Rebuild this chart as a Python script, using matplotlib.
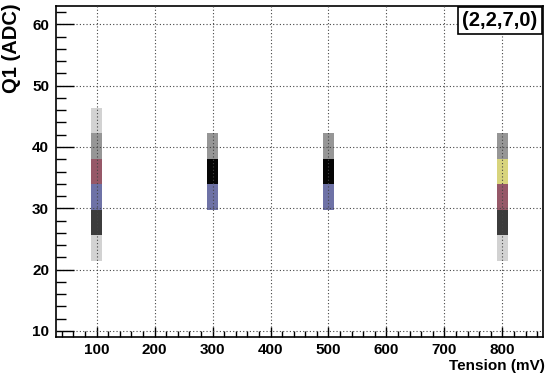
import numpy as np
import matplotlib
matplotlib.use("Agg")
import matplotlib.pyplot as plt
from matplotlib.colors import ListedColormap, BoundaryNorm

plt.rcParams['font.family'] = ['Liberation Sans', 'DejaVu Sans']
plt.rcParams['font.weight'] = 'bold'

# ---- data ----
tension_mv = [100, 300, 500, 800]            # x bin centres (mV)
q1_first_bin = [3, 5, 5, 3]                  # index of first filled Q1 bin per column
counts_100 = [1, 3, 4, 5, 2, 1]
counts_300 = [4, 7, 2]
counts_500 = [4, 7, 2]
counts_800 = [1, 3, 5, 6, 2]
x_range = (30, 870)
x_bin_width = 20
y_range = (9, 63)
n_y_bins = 13
x_ticks = [100, 200, 300, 400, 500, 600, 700, 800]
y_ticks = [10, 20, 30, 40, 50, 60]
label_text = "(2,2,7,0)"

palette = ['#d2d2d2', '#969696', '#3c3c3c', '#6e72a6', '#965868', '#d8d47c', '#050505']

# ---- build histogram ----
x_edges = np.arange(x_range[0], x_range[1] + x_bin_width, x_bin_width)
y_edges = np.linspace(y_range[0], y_range[1], n_y_bins + 1)
Z = np.zeros((n_y_bins, len(x_edges) - 1))
for xc, first, cnts in zip(tension_mv, q1_first_bin,
                           [counts_100, counts_300, counts_500, counts_800]):
    ix = int(np.searchsorted(x_edges, xc) - 1)
    for k, c in enumerate(cnts):
        Z[first + k, ix] = c
Zm = np.ma.masked_where(Z <= 0, Z)

cmap = ListedColormap(palette)
norm = BoundaryNorm(np.arange(0.5, len(palette) + 1.5), cmap.N)

fig = plt.figure(figsize=(5.47, 3.77), dpi=100)
ax = fig.add_axes([56/547, 1 - 337/377, (543 - 56)/547, (337 - 6)/377])
ax.pcolormesh(x_edges, y_edges, Zm, cmap=cmap, norm=norm, zorder=1)

ax.set_xlim(*x_range)
ax.set_ylim(*y_range)
ax.set_xticks(x_ticks)
ax.set_yticks(y_ticks)
ax.set_xticks(np.arange(40, 870, 20), minor=True)
ax.set_yticks(np.arange(10, 63, 2), minor=True)
ax.tick_params(axis='x', which='major', direction='in', length=7, width=1, pad=4, labelsize=11)
ax.tick_params(axis='x', which='minor', direction='in', length=4, width=1)
ax.tick_params(axis='y', which='major', direction='in', length=13, width=1, pad=5, labelsize=11)
ax.tick_params(axis='y', which='minor', direction='in', length=7, width=1)
for lab in ax.get_xticklabels() + ax.get_yticklabels():
    lab.set_fontweight('bold')

ax.set_axisbelow(False)
ax.grid(True, which='major', color='#444444', linestyle=(0, (1, 2)), linewidth=0.8)
for s in ax.spines.values():
    s.set_linewidth(1.2)
    s.set_color('black')

fig.text(545/547, 1 - 366/377, "Tension (mV)", ha='right', va='center',
         fontsize=11, fontweight='bold')
fig.text(12/547, 1 - 3/377, "Q1 (ADC)", ha='center', va='top', rotation=90,
         fontsize=14.5, fontweight='bold')
fig.text(500/547, 1 - 20.5/377, label_text, ha='center', va='center',
         fontsize=14.5, fontweight='bold',
         bbox=dict(boxstyle='square,pad=0.2', facecolor='white', edgecolor='black', linewidth=1.2))

fig.savefig("out.png", dpi=100)
